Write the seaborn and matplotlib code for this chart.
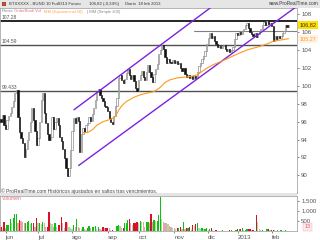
import numpy as np
import pandas as pd
import matplotlib
matplotlib.use("Agg")
import matplotlib.pyplot as plt
import seaborn as sns
from matplotlib.patches import Rectangle

# ---------------- data ----------------
first_day = -3
first_open = 96.3
closes = [
    96.0, 96.8, 95.6, 95.2, 96.2, 96.6, 97.0, 97.6, 98.3, 99.2,
    99.5, 96.5, 94.8, 94.2, 93.6, 92.0, 93.0, 94.0, 94.8, 96.0,
    97.5, 96.2, 95.0, 93.4, 94.2, 96.0, 98.4, 99.2, 97.0, 95.8,
    94.6, 93.9, 94.3, 96.5, 95.2, 96.0, 96.4, 95.6, 94.3, 93.8,
    93.0, 91.9, 90.8, 89.9, 90.8, 92.8, 95.0, 96.4, 95.8, 96.5,
    96.1, 92.6, 94.6, 95.3, 94.9, 95.6, 95.9, 96.5, 96.1, 96.9,
    97.5, 98.4, 99.3, 99.6, 99.0, 98.6, 98.3, 97.8, 97.6, 97.2,
    96.4, 96.0, 95.7, 96.6, 97.8, 98.7, 100.9, 101.2, 100.6, 100.3,
    100.8, 101.4, 101.9, 101.2, 100.8, 101.2, 100.5, 99.8, 99.4, 100.6,
    101.2, 101.7, 101.0, 100.7, 101.6, 102.3, 101.6, 101.0, 100.4, 101.3,
    101.9, 102.4, 103.6, 104.0, 104.6, 104.1, 103.2, 102.6, 103.0, 102.7,
    102.5, 102.9, 102.6, 102.8, 102.4, 102.6, 102.0, 101.7, 102.0, 101.3,
    101.0, 101.2, 100.9, 101.1, 100.8, 101.1, 100.9, 101.6, 102.2, 102.5,
    103.0, 103.3, 103.9, 104.7, 105.4, 105.9, 105.4, 105.6, 105.0, 104.7,
    104.3, 104.5, 104.2, 104.4, 104.6, 104.1, 103.9, 104.1, 103.8, 104.0,
    104.3, 105.2, 105.9, 105.7, 106.0, 105.8, 106.1, 106.3, 106.8, 107.0,
    106.5, 106.0, 105.8, 105.6, 105.9, 105.5, 105.8, 106.0, 106.4, 106.8,
    107.1, 106.8, 107.2, 106.9, 107.0, 106.7, 105.0, 105.6, 105.2, 105.6,
    105.3, 105.6, 105.9, 106.1, 106.8, 106.6, 106.82,
]
volumes = [
    217, 83, 467, 133, 300, 300, 583, 383, 633, 850,
    850, 417, 550, 517, 433, 383, 417, 467, 517, 350,
    383, 383, 217, 633, 383, 383, 350, 467, 417, 217,
    217, 967, 383, 333, 217, 383, 217, 300, 300, 683,
    383, 133, 467, 383, 217, 133, 100, 300, 217, 583,
    217, 133, 83, 217, 83, 50, 133, 250, 167, 217,
    217, 250, 100, 217, 83, 50, 217, 167, 167, 167,
    133, 50, 50, 17, 17, 250, 300, 250, 167, 167,
    383, 417, 550, 583, 383, 300, 383, 383, 433, 383,
    517, 467, 433, 217, 433, 467, 383, 850, 467, 550,
    517, 517, 800, 1717, 583, 467, 417, 383, 333, 250,
    217, 167, 133, 83, 133, 167, 217, 100, 467, 83,
    133, 133, 217, 83, 300, 250, 333, 400, 133, 83,
    133, 83, 83, 133, 50, 83, 167, 50, 17, 30,
    20, 25, 20, 30, 20, 15, 20, 25, 30, 50,
    17, 17, 50, 83, 83, 100, 133, 50, 50, 83,
    83, 100, 50, 50, 17, 800, 467, 83, 50, 50,
    17, 17, 83, 83, 50, 50, 50, 33, 25, 30,
    25, 30, 25, 20, 30, 25, 13,
]
ema_days = [50, 53, 56, 59, 63, 68, 71, 73, 75, 78, 83, 87, 91, 96, 100, 103,
            106, 111, 115, 119, 124, 127, 130, 134, 139, 143, 147, 152, 156,
            160, 164, 169, 173, 178, 183]
ema_vals = [94.78, 94.78, 95.08, 95.6, 96.0, 96.27, 96.57, 97.24, 97.76, 98.24,
            98.73, 98.99, 99.17, 99.36, 99.84, 100.36, 100.66, 100.89, 100.96,
            101.04, 101.22, 101.6, 101.97, 102.34, 102.71, 103.0, 103.34, 103.72,
            104.01, 104.2, 104.39, 104.69, 104.98, 105.13, 105.27]
levels = [107.28, 104.59, 99.433]
level_labels = ["107.28", "104.59", "99.433"]
resist_start, resist_level = 122, 106.1
upper_days, upper_vals = [44, 134], [97.3, 108.93]
lower_days, lower_vals = [47, 189], [91.07, 108.98]
month_ticks = [0, 21, 43, 66, 86, 109, 131, 150, 172]
month_labels = ["jun", "jul", "ago", "sep", "oct", "nov", "dic", "2013", "feb"]
price_ticks = [90, 92, 94, 96, 98, 100, 102, 104, 106, 108]
vol_ticks = [500, 1000, 1500]
vol_tick_labels = ["500", "1.000", "1.500"]
last_price, last_price_label = 106.82, "106,82"
last_ema, last_ema_label = 105.27, "105,27"
last_vol_label = "13"

# ---------------- figure ----------------
sns.set_theme(style="white")
plt.rcParams['font.family'] = ['Liberation Sans', 'DejaVu Sans']
W, H = 320, 240
fig = plt.figure(figsize=(3.2, 2.4), dpi=100, facecolor="white")

def fx(px): return px / W
def fy(py): return 1 - py / H

ax = fig.add_axes([0, fy(193), fx(297), (193 - 8) / H])
axv = fig.add_axes([0, fy(231), fx(297), (231 - 196) / H])

days = np.arange(first_day, first_day + len(closes))
c = np.array(closes)
o = np.array([first_open] + closes[:-1])
up = c >= o
xmin, xmax = -3.6, 188.4
ylo, yhi = 88.03, 108.70

# candles
lo = np.minimum(o, c)
hgt = np.maximum(np.abs(c - o), 0.06)
ax.bar(days[up], hgt[up], bottom=lo[up], width=0.8, facecolor="white",
       edgecolor="#808080", linewidth=0.45, zorder=3)
ax.bar(days[~up], hgt[~up], bottom=lo[~up], width=0.8, facecolor="#111111",
       edgecolor="#111111", linewidth=0.45, zorder=3)

# horizontal levels
ax.axhline(levels[0], color="black", lw=1.2, zorder=2)
ax.axhline(levels[1], color="#505050", lw=1.0, zorder=2)
ax.axhline(levels[2], color="#505050", lw=1.0, zorder=2)
ax.plot([resist_start, xmax], [resist_level, resist_level], color="#808080", lw=0.8, zorder=2)
for lv, lb in zip(levels, level_labels):
    ax.text(xmin + 1.2, lv + 0.12, lb, fontsize=3.6, color="#555555", va="bottom", ha="left")

# channel lines
ax.plot(upper_days, upper_vals, color="#7b22e0", lw=1.0, zorder=4, solid_capstyle="butt")
ax.plot(lower_days, lower_vals, color="#7b22e0", lw=1.0, zorder=4, solid_capstyle="butt")

# EMA
sns.lineplot(x=ema_days, y=ema_vals, color="#ff9a1a", lw=0.8, ax=ax, zorder=5)

ax.set_xlim(xmin, xmax)
ax.set_ylim(ylo, yhi)
ax.set_xticks([])
ax.yaxis.tick_right()
ax.set_yticks(price_ticks)
ax.set_yticklabels([str(t) for t in price_ticks])
ax.tick_params(axis="y", labelsize=4.4, colors="#555555", length=1.5, width=0.5, pad=1.5, right=True)
for s in ax.spines.values():
    s.set_color("#a8a8a8"); s.set_linewidth(0.6)
ax.set_xlabel(""); ax.set_ylabel("")

ax.text(1.008, (last_price - ylo) / (yhi - ylo), last_price_label, transform=ax.transAxes,
        fontsize=4.0, color="#333333", va="center", ha="left",
        bbox=dict(boxstyle="square,pad=0.25", fc="#ffe000", ec="none"))
ax.text(1.008, (last_ema - ylo) / (yhi - ylo), last_ema_label, transform=ax.transAxes,
        fontsize=4.0, color="#ff9a1a", va="center", ha="left",
        bbox=dict(boxstyle="square,pad=0.25", fc="#fff3e6", ec="none"))

# volume
vdf = pd.DataFrame({"day": days, "vol": volumes})
sns.barplot(data=vdf, x="day", y="vol", native_scale=True, errorbar=None,
            width=0.8, saturation=1, color="#10c010", linewidth=0, ax=axv)
prev = np.array([volumes[0]] + volumes[:-1])
vol_arr = np.array(volumes)
pal = {"g": "#10c010", "lg": "#9de29d", "r": "#d8102a", "p": "#eba3a8"}
kinds = np.where(up, np.where(vol_arr >= prev, "g", "lg"),
                 np.where(vol_arr >= prev, "r", "p"))
bars = sorted(axv.patches, key=lambda p: p.get_x())
for p, k in zip(bars, kinds):
    p.set_facecolor(pal[k])
    p.set_edgecolor("none")
axv.set_xlim(xmin, xmax)
axv.set_ylim(0, 1750)
axv.yaxis.tick_right()
axv.set_yticks(vol_ticks)
axv.set_yticklabels(vol_tick_labels)
axv.tick_params(axis="y", labelsize=4.4, colors="#555555", length=1.5, width=0.5, pad=1.5, right=True)
axv.set_xticks(month_ticks)
axv.set_xticklabels(month_labels, ha="left")
axv.tick_params(axis="x", labelsize=4.4, colors="#555555", length=1.5, width=0.5, pad=1.2, bottom=True)
axv.set_xlabel(""); axv.set_ylabel("")
for s in axv.spines.values():
    s.set_color("#a8a8a8"); s.set_linewidth(0.6)
axv.text(1.025, 0.12, last_vol_label, transform=axv.transAxes, fontsize=3.8,
         color="#e06070", va="center", ha="left",
         bbox=dict(boxstyle="square,pad=0.3", fc="#fde8ea", ec="#f0b0b8", lw=0.3))

# separator band between panels and header bar
fig.patches.append(Rectangle((0, fy(196)), fx(297), 3 / H, transform=fig.transFigure,
                             fc="#e4e4e4", ec="none", zorder=0))
fig.patches.append(Rectangle((0, fy(7.5)), 1, 7.5 / H, transform=fig.transFigure,
                             fc="#e6e6e6", ec="none", zorder=0))
fig.patches.append(Rectangle((fx(1.5), fy(6)), fx(4), 4 / H, transform=fig.transFigure,
                             fc="#d03030", ec="none", zorder=1))
fig.patches.append(Rectangle((fx(2.5), fy(5)), fx(2), 2 / H, transform=fig.transFigure,
                             fc="#30a030", ec="none", zorder=2))

# header texts
hs = 3.1
fig.text(fx(9), fy(3.8), "BTXXXXX - BUND 10 Fut0313 Futuro", fontsize=hs, color="#333333", va="center")
fig.text(fx(89), fy(3.8), "106,82 (-0,34%)", fontsize=hs, color="#333333", va="center")
fig.text(fx(125), fy(3.8), "Diario  18 feb 2013", fontsize=hs, color="#333333", va="center")
fig.text(fx(318), fy(3.8), "www.ProRealTime.com", fontsize=3.4, color="#333333", va="center", ha="right")

# indicator legend line
ls = 3.0
fig.text(fx(2), fy(11.5), "Precio", fontsize=ls, color="#888888", va="center")
fig.text(fx(14), fy(11.5), "OrderBook Vol", fontsize=ls, color="#e07080", va="center")
fig.text(fx(44), fy(11.5), "MM (Exponencial 50)", fontsize=ls, color="#ffa040", va="center")
fig.text(fx(87), fy(11.5), "| MM (Simple 200)", fontsize=ls, color="#888888", va="center")

# footer inside main panel and volume title
fig.text(fx(1), fy(191.3), "\u00a9 ProRealTime.com Hist\u00f3ricos ajustados en saltos tras vencimientos.",
         fontsize=3.6, color="#444444", va="center")
fig.text(fx(2), fy(199), "Volumen", fontsize=3.6, color="#e07080", va="center")

fig.savefig("out.png", dpi=100, facecolor="white")
